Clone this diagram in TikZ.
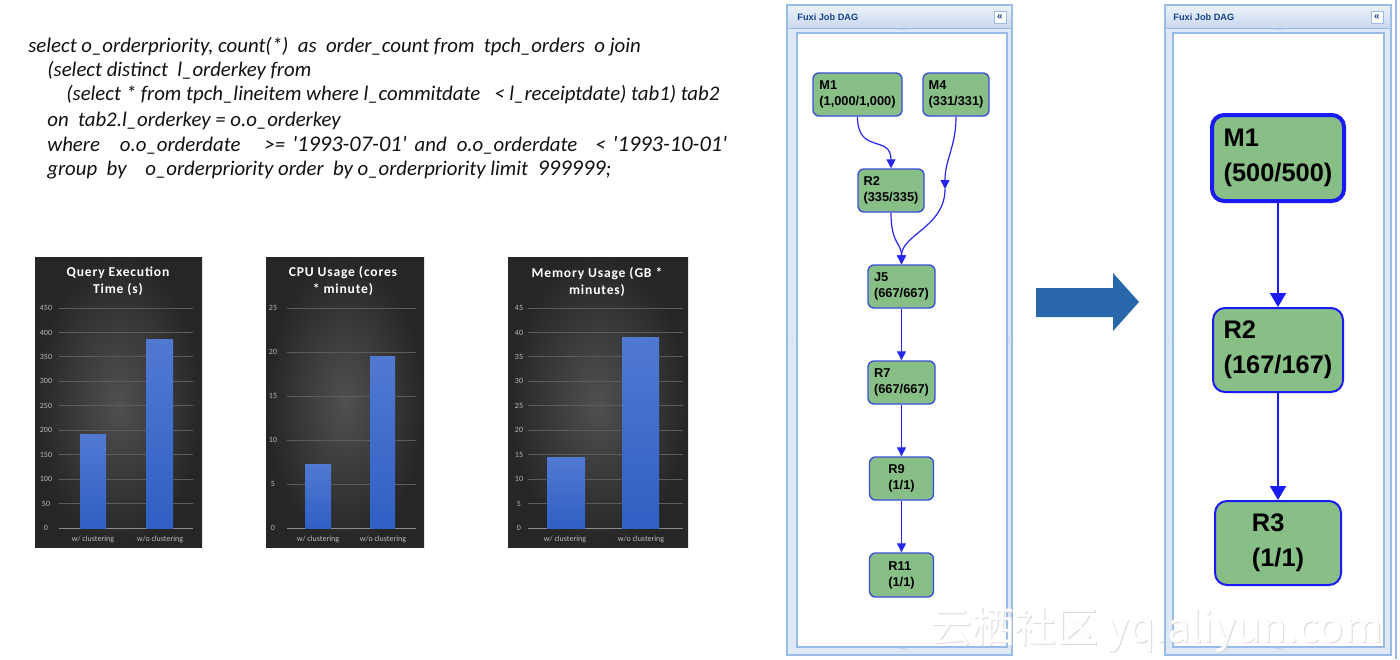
\documentclass[tikz,border=0pt]{standalone}
\usepackage{fontspec}
\setmainfont{Liberation Sans}
\newfontfamily\sqlfont{Carlito}
\newfontfamily\charttitlefont[LetterSpace=6.0]{Carlito}
\newfontfamily\chartfont{Carlito}
\newfontfamily\cjkfont{Noto Sans CJK SC}
\usetikzlibrary{arrows.meta}
\definecolor{nodegreen}{HTML}{87BF87}
\definecolor{nodeborder}{HTML}{3B4FD6}
\definecolor{edgeblue}{HTML}{2626EE}
\definecolor{bigborder}{HTML}{1A1AF5}
\definecolor{panelborder}{HTML}{99BBE8}
\definecolor{panelbg}{HTML}{DFE8F6}
\definecolor{titletop}{HTML}{EAF0F9}
\definecolor{titlebot}{HTML}{C9D9EF}
\definecolor{titletext}{HTML}{15428B}
\definecolor{bigarrow}{HTML}{2868AA}
\definecolor{chartin}{HTML}{505050}
\definecolor{chartout}{HTML}{262626}
\definecolor{gridgray}{HTML}{5C5C5C}
\definecolor{axisgray}{HTML}{8A8A8A}
\definecolor{labgray}{HTML}{B8B8B8}
\definecolor{bartop}{HTML}{5079D2}
\definecolor{barbot}{HTML}{3060C4}
\definecolor{sqlgray}{HTML}{111111}
\definecolor{wmshade}{HTML}{DADADA}
\newcommand{\bigdigits}[1]{{\fontsize{11.2}{12}\selectfont #1}}
\begin{document}
\begin{tikzpicture}[x=0.5pt,y=-0.5pt,
  sql/.style={anchor=west,inner sep=0pt,text=sqlgray,font=\sqlfont\itshape\fontsize{10.4}{12}\selectfont},
  charttitle/.style={inner sep=0pt,text=white,align=center,font=\charttitlefont\bfseries\fontsize{6.8}{8.5}\selectfont},
  axlab/.style={inner sep=0pt,text=labgray,font=\chartfont\fontsize{4}{4.5}\selectfont},
  catlab/.style={inner sep=0pt,text=labgray!90!white,font=\chartfont\fontsize{4}{4.5}\selectfont},
  grid/.style={draw=gridgray,line width=0.4pt},
  axisline/.style={draw=axisgray,line width=0.5pt},
  bar/.style={top color=bartop,bottom color=barbot},
  dagnode/.style={draw=nodeborder,fill=nodegreen,rounded corners=3pt,line width=0.7pt,
    align=left,inner sep=0pt,font=\bfseries\fontsize{6.4}{8}\selectfont},
  bignode/.style={draw=bigborder,fill=nodegreen,rounded corners=6pt,line width=1pt,
    align=left,inner sep=0pt,font=\bfseries\fontsize{12.7}{17.5}\selectfont},
  edge/.style={draw=edgeblue,line width=0.6pt,-{Triangle[width=4.5pt,length=4.5pt]}},
  bigedge/.style={draw=bigborder,line width=1pt,-{Triangle[width=8pt,length=7pt]}},
  ptitle/.style={inner sep=0pt,anchor=west,text=titletext,font=\bfseries\fontsize{4.6}{5}\selectfont},
  pbutton/.style={draw=panelborder,fill=white,inner sep=0pt,minimum width=6pt,minimum height=6pt,
    text=titletext,font=\bfseries\fontsize{5}{5}\selectfont},
  grip/.style={inner sep=0pt,text=panelborder!70!black,font=\fontsize{3}{3}\selectfont},
  wm/.style={anchor=west,inner sep=0pt,font=\cjkfont\fontsize{21}{22}\selectfont}
]
\useasboundingbox (0,0) rectangle (1400,659);
\fill[white] (0,0) rectangle (1400,659);

% ---------------- SQL text ----------------
\node[sql] (q1) at (28,47) {select o\_orderpriority, count(*)\ \ as\ \ order\_count from\ \ tpch\_orders\ \ o join};
\node[sql] (q2) at (47,71) {(select distinct\ \ l\_orderkey from};
\node[sql] (q3) at (66,95) {(select * from tpch\_lineitem where l\_commitdate\ \ \ < l\_receiptdate) tab1) tab2};
\node[sql] (q4) at (47,121) {on\ \ tab2.l\_orderkey = o.o\_orderkey};
\node[sql] (q5) at (47,145) {where\hspace{10pt}o.o\_orderdate\hspace{12pt}>=\hspace{3.5pt}\bigdigits{'1993-07-01'}\hspace{4pt}and\hspace{5pt}o.o\_orderdate\hspace{9pt}<\hspace{3.5pt}\bigdigits{'1993-10-01'}};
\node[sql] (q6) at (47,170) {group\ \ by\ \ \ \ o\_orderpriority order\ \ by o\_orderpriority limit\ \ \bigdigits{999999};};

% ---------------- Chart 1 ----------------
\shade[inner color=chartin,outer color=chartout] (35,257) rectangle (202,547);
\node[charttitle] (c1title) at (118,281) {Query Execution\\Time (s)};
\foreach \v in {50,100,...,450}{
  \pgfmathsetmacro\yy{528-\v*0.48889}
  \draw[grid] (59,\yy) -- (193,\yy);
}
\foreach \v in {0,50,...,450}{
  \pgfmathsetmacro\yy{528-\v*0.48889}
  \node[axlab] (c1t\v) at (46,\yy) {\v};
}
\draw[axisline] (59,528) -- (193,528);
\shade[bar] (80,434) rectangle (106,528);
\shade[bar] (146,339) rectangle (173,528);
\node[catlab] (c1a) at (93,539) {w/ clustering};
\node[catlab] (c1b) at (160,539) {w/o clustering};

% ---------------- Chart 2 ----------------
\shade[inner color=chartin,outer color=chartout] (266,257) rectangle (424,547);
\node[charttitle] (c2title) at (343,281) {CPU Usage (cores\\* minute)};
\foreach \v in {5,10,...,25}{
  \pgfmathsetmacro\yy{528-\v*8.8}
  \draw[grid] (287,\yy) -- (416,\yy);
}
\foreach \v in {0,5,...,25}{
  \pgfmathsetmacro\yy{528-\v*8.8}
  \node[axlab] (c2t\v) at (273,\yy) {\v};
}
\draw[axisline] (287,528) -- (416,528);
\shade[bar] (305,464) rectangle (331,528);
\shade[bar] (370,356) rectangle (395,528);
\node[catlab] (c2a) at (318,539) {w/ clustering};
\node[catlab] (c2b) at (383,539) {w/o clustering};

% ---------------- Chart 3 ----------------
\shade[inner color=chartin,outer color=chartout] (508,257) rectangle (688,547);
\node[charttitle] (c3title) at (597,282) {Memory Usage (GB *\\minutes)};
\foreach \v in {5,10,...,45}{
  \pgfmathsetmacro\yy{528-\v*4.8889}
  \draw[grid] (528,\yy) -- (683,\yy);
}
\foreach \v in {0,5,...,45}{
  \pgfmathsetmacro\yy{528-\v*4.8889}
  \node[axlab] (c3t\v) at (519,\yy) {\v};
}
\draw[axisline] (528,528) -- (683,528);
\shade[bar] (547,457) rectangle (585,528);
\shade[bar] (622,337) rectangle (659,528);
\node[catlab] (c3a) at (565,539) {w/ clustering};
\node[catlab] (c3b) at (641,539) {w/o clustering};

% ---------------- Panel 1 frame ----------------
\filldraw[fill=panelbg,draw=panelborder,line width=0.6pt] (787,5) rectangle (1012,655);
\shade[top color=titletop,bottom color=titlebot] (788,6) rectangle (1011,28);
\draw[panelborder,line width=0.4pt] (788,28) -- (1011,28);
\filldraw[fill=white,draw=panelborder,line width=0.8pt] (797,33) rectangle (1007,647);
\node[ptitle] (p1title) at (797,17) {Fuxi Job DAG};
\node[pbutton] (p1btn) at (1000,17) {«};
\node[grip] (p1gt) at (902,31) {····};
\node[grip] (p1gb) at (902,650) {····};
\node[grip] (p1gl) at (793,340) {\rotatebox{90}{····}};
\node[grip] (p1gr) at (1010,340) {\rotatebox{90}{····}};

% ---------------- Panel 2 frame ----------------
\filldraw[fill=panelbg,draw=panelborder,line width=0.6pt] (1165,5) rectangle (1391,655);
\shade[top color=titletop,bottom color=titlebot] (1166,6) rectangle (1390,28);
\draw[panelborder,line width=0.4pt] (1166,28) -- (1390,28);
\filldraw[fill=white,draw=panelborder,line width=0.8pt] (1173,33) rectangle (1384,647);
\draw[panelborder,line width=0.6pt] (1396,0) -- (1396,659);
\node[ptitle] (p2title) at (1173,17) {Fuxi Job DAG};
\node[pbutton] (p2btn) at (1377,17) {«};
\node[grip] (p2gt) at (1278,31) {····};
\node[grip] (p2gb) at (1278,650) {····};
\node[grip] (p2gl) at (1169,340) {\rotatebox{90}{····}};

% ---------------- Big arrow ----------------
\fill[bigarrow] (1036,288) -- (1113,288) -- (1113,273) -- (1139,302) -- (1113,331) -- (1113,317) -- (1036,317) -- cycle;

% ---------------- DAG 1 ----------------
\node[dagnode,minimum width=44.5pt,minimum height=21.5pt] (M1) at (857.5,94.5) {M1\\(1,000/1,000)};
\node[dagnode,minimum width=33pt,minimum height=21.5pt] (M4) at (956,94.5) {M4\\(331/331)};
\node[dagnode,minimum width=33pt,minimum height=21.5pt] (R2) at (891,190.5) {R2\\(335/335)};
\node[dagnode,minimum width=33.5pt,minimum height=21.5pt] (J5) at (901.5,286.5) {J5\\(667/667)};
\node[dagnode,minimum width=33.5pt,minimum height=21.5pt] (R7) at (901.5,382.5) {R7\\(667/667)};
\node[dagnode,minimum width=32pt,minimum height=21.5pt] (R9) at (901.5,478.5) {R9\\(1/1)};
\node[dagnode,minimum width=32pt,minimum height=22pt] (R11) at (901.5,575) {R11\\(1/1)};
\coordinate (w4) at (945,189);
\draw[edge] (M1.south) .. controls +(0,38) and +(0,-34) .. (R2.north);
\draw[edge] (M4.south) .. controls +(0,30) and +(0,-30) .. (w4);
\draw[edge] (w4) .. controls +(0,38) and +(0,-30) .. (J5.north);
\draw[edge] (R2.south) .. controls +(0,32) and +(0,-22) .. (J5.north);
\draw[edge] (J5) -- (R7);
\draw[edge] (R7) -- (R9);
\draw[edge] (R9) -- (R11);

% ---------------- DAG 2 ----------------
\node[bignode,line width=2pt,minimum width=66pt,minimum height=43pt] (BM1) at (1278,158) {M1\\(500/500)};
\node[bignode,minimum width=65pt,minimum height=42pt] (BR2) at (1278,350) {R2\\(167/167)};
\node[bignode,minimum width=63pt,minimum height=42pt] (BR3) at (1278,543) {R3\\(1/1)};
\draw[bigedge] (BM1) -- (BR2);
\draw[bigedge] (BR2) -- (BR3);

% ---------------- Watermark ----------------
\node[wm,text=wmshade] (wmshadow) at (931,631) {云栖社区 yq.aliyun.com};
\node[wm,text=white] (wmark) at (930,630) {云栖社区 yq.aliyun.com};
\end{tikzpicture}
\end{document}
